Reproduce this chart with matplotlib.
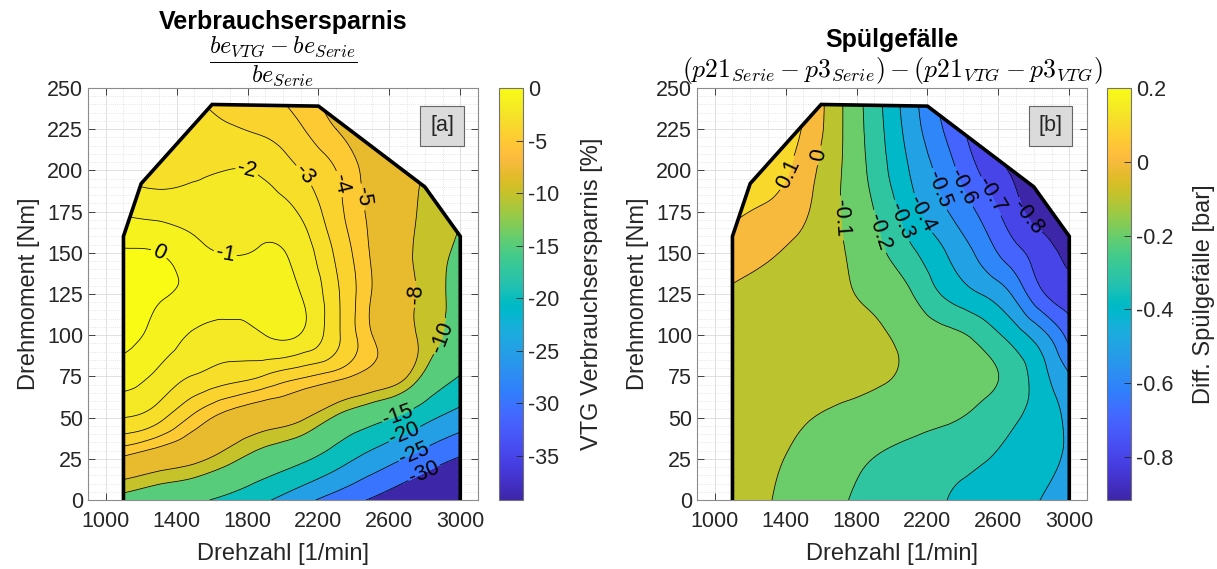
import numpy as np
import matplotlib
matplotlib.use("Agg")
import matplotlib.pyplot as plt
import matplotlib.tri as mtri
from matplotlib.colors import LinearSegmentedColormap, Normalize
from matplotlib.patches import Polygon
from matplotlib.cm import ScalarMappable
from matplotlib.ticker import MultipleLocator, FormatStrFormatter

plt.rcParams["font.family"] = ["Liberation Sans", "DejaVu Sans"]
plt.rcParams["mathtext.fontset"] = "cm"
plt.rcParams["axes.unicode_minus"] = False
plt.rcParams["contour.negative_linestyle"] = "solid"

# Kennfeld-Stuetzstellen
drehzahl = [1100, 1300, 1500, 1700, 1900, 2100, 2300, 2500, 2700, 2850, 3000]
drehmoment = [0, 25, 50, 75, 100, 125, 150, 175, 200, 225, 250]

# Verbrauchsersparnis [%], eine Zeile je Drehmoment
verbrauch = [
    [-11.1, -12.6, -14.1, -16.3, -19.4, -23.3, -27.1, -30.5, -34.0, -36.5, -39.2],
    [-5.3, -6.35, -7.4, -9.3, -11.7, -14.0, -17.7, -21.8, -25.4, -28.1, -30.5],
    [-2.0, -2.7, -4.25, -5.6, -6.6, -7.6, -10.4, -13.2, -16.4, -19.6, -22.1],
    [-0.55, -1.24, -2.06, -2.57, -3.1, -3.83, -4.55, -5.8, -7.97, -12.1, -15.2],
    [0.3, -0.37, -1.14, -1.43, -1.0, -1.05, -2.75, -4.96, -7.3, -9.3, -11.5],
    [0.4, 0.1, -0.17, -0.45, -0.72, -1.0, -2.8, -5.02, -7.55, -9.0, -11.5],
    [0.1, 0.0, -0.62, -1.05, -0.9, -1.4, -3.17, -5.15, -7.7, -9.0, -10.7],
    [-1.15, -1.35, -1.45, -1.5, -1.49, -2.13, -3.66, -5.35, -7.46, -8.8, -9.8],
    [-2.2, -2.3, -2.18, -1.98, -2.19, -3.0, -4.0, -5.6, -7.3, -8.5, -9.5],
    [-2.4, -2.5, -2.65, -2.9, -3.2, -3.9, -5.0, -6.0, -7.2, -8.2, -9.3],
    [-2.7, -2.8, -3.1, -3.35, -3.9, -4.6, -5.8, -7.0, -8.0, -8.8, -9.6],
]

# Differenz Spuelgefaelle [bar]
spuelgefaelle = [
    [-0.06, -0.095, -0.142, -0.189, -0.227, -0.263, -0.298, -0.336, -0.374, -0.403, -0.43],
    [-0.055, -0.085, -0.12, -0.16, -0.202, -0.232, -0.262, -0.291, -0.337, -0.376, -0.41],
    [-0.05, -0.07, -0.094, -0.113, -0.138, -0.163, -0.187, -0.225, -0.29, -0.353, -0.42],
    [-0.04, -0.055, -0.07, -0.081, -0.088, -0.116, -0.15, -0.175, -0.25, -0.369, -0.49],
    [-0.025, -0.04, -0.055, -0.069, -0.085, -0.125, -0.17, -0.233, -0.354, -0.471, -0.638],
    [-0.01, -0.03, -0.05, -0.082, -0.122, -0.19, -0.315, -0.4, -0.53, -0.69, -0.749],
    [0.047, 0.013, -0.033, -0.088, -0.166, -0.275, -0.397, -0.528, -0.67, -0.755, -0.84],
    [0.12, 0.081, 0.017, -0.095, -0.2, -0.355, -0.49, -0.62, -0.77, -0.85, -0.9],
    [0.18, 0.15, 0.053, -0.089, -0.234, -0.403, -0.55, -0.71, -0.82, -0.88, -0.917],
    [0.2, 0.17, 0.092, -0.08, -0.25, -0.44, -0.61, -0.77, -0.87, -0.9, -0.917],
    [0.2, 0.18, 0.1, -0.08, -0.26, -0.46, -0.63, -0.79, -0.88, -0.91, -0.917],
]

# Volllastlinie
vl_drehzahl = [1100, 1100, 1200, 1600, 2200, 2800, 3000, 3000]
vl_moment = [0, 160, 192, 240, 239, 190, 160, 0]

levels_a = [-30, -25, -20, -15, -10, -8, -5, -4, -3, -2, -1, 0]
levels_b = [-0.8, -0.7, -0.6, -0.5, -0.4, -0.3, -0.2, -0.1, 0, 0.1]

# Positionen der Hoehenlinien-Beschriftungen
labels_a = [(1302, 150), (1669, 146), (1791, 197), (2119, 197), (2326, 192),
            (2457, 184), (2730, 125), (2891, 99), (2647, 52), (2685, 40),
            (2741, 28), (2797, 16)]
labels_b = [(1417, 198), (1595, 209), (1708, 171), (1933, 163), (2046, 169),
            (2159, 173), (2253, 188), (2403, 190), (2553, 184), (2769, 172)]

parula_rgb = [
    (0.2422, 0.1504, 0.6603), (0.2504, 0.1650, 0.7076), (0.2578, 0.1818, 0.7511), (0.2647, 0.1978, 0.7952),
    (0.2706, 0.2147, 0.8364), (0.2751, 0.2342, 0.8710), (0.2783, 0.2559, 0.8991), (0.2803, 0.2782, 0.9221),
    (0.2813, 0.3006, 0.9414), (0.2810, 0.3228, 0.9579), (0.2795, 0.3447, 0.9717), (0.2760, 0.3667, 0.9829),
    (0.2699, 0.3892, 0.9906), (0.2602, 0.4123, 0.9952), (0.2440, 0.4358, 0.9988), (0.2206, 0.4603, 0.9973),
    (0.1963, 0.4847, 0.9892), (0.1834, 0.5074, 0.9798), (0.1786, 0.5289, 0.9682), (0.1764, 0.5499, 0.9520),
    (0.1687, 0.5703, 0.9359), (0.1540, 0.5902, 0.9218), (0.1460, 0.6091, 0.9079), (0.1380, 0.6276, 0.8973),
    (0.1248, 0.6459, 0.8883), (0.1113, 0.6635, 0.8763), (0.0952, 0.6798, 0.8598), (0.0689, 0.6948, 0.8394),
    (0.0297, 0.7082, 0.8163), (0.0036, 0.7203, 0.7917), (0.0067, 0.7312, 0.7660), (0.0433, 0.7411, 0.7394),
    (0.0964, 0.7500, 0.7120), (0.1408, 0.7584, 0.6842), (0.1717, 0.7670, 0.6554), (0.1938, 0.7758, 0.6251),
    (0.2161, 0.7843, 0.5923), (0.2470, 0.7918, 0.5567), (0.2906, 0.7973, 0.5188), (0.3406, 0.8008, 0.4789),
    (0.3909, 0.8029, 0.4354), (0.4456, 0.8024, 0.3909), (0.5044, 0.7993, 0.3480), (0.5616, 0.7942, 0.3045),
    (0.6174, 0.7876, 0.2612), (0.6720, 0.7793, 0.2227), (0.7242, 0.7698, 0.1910), (0.7738, 0.7598, 0.1646),
    (0.8203, 0.7498, 0.1535), (0.8634, 0.7406, 0.1596), (0.9035, 0.7330, 0.1774), (0.9393, 0.7288, 0.2100),
    (0.9728, 0.7298, 0.2394), (0.9956, 0.7434, 0.2371), (0.9970, 0.7659, 0.2199), (0.9952, 0.7893, 0.2028),
    (0.9892, 0.8136, 0.1885), (0.9786, 0.8386, 0.1766), (0.9676, 0.8639, 0.1643), (0.9610, 0.8890, 0.1537),
    (0.9597, 0.9135, 0.1423), (0.9628, 0.9373, 0.1265), (0.9691, 0.9606, 0.1064), (0.9769, 0.9839, 0.0805),
]
parula = LinearSegmentedColormap.from_list("parula", parula_rgb, N=256)

W, H = 1217, 569


def kennfeld(ax, cax, werte, levels, vmin, vmax, cticks, lab_pos, cb_label, cb_pad):
    n, m = np.meshgrid(drehzahl, drehmoment)
    z = np.asarray(werte, dtype=float).ravel()
    # glatte Darstellung ueber verfeinerte Dreiecksvernetzung
    tri = mtri.Triangulation(n.ravel() / 200.0, m.ravel() / 25.0)
    interp = mtri.CubicTriInterpolator(tri, z, kind="min_E")
    tri_f, z_f = mtri.UniformTriRefiner(tri).refine_field(z, triinterpolator=interp, subdiv=4)
    tri_p = mtri.Triangulation(tri_f.x * 200.0, tri_f.y * 25.0, tri_f.triangles)

    norm = Normalize(vmin, vmax)
    bounds = [-1e3] + list(levels) + [1e3]
    band_colors = [parula(norm(max(lo, vmin))) for lo in bounds[:-1]]

    vl = Polygon(np.column_stack([vl_drehzahl, vl_moment]), closed=True,
                 transform=ax.transData, fc="none", ec="none")
    cf = ax.tricontourf(tri_p, z_f, levels=bounds, colors=band_colors, zorder=1)
    cf.set_clip_path(vl)
    cl = ax.tricontour(tri_p, z_f, levels=levels, colors="k", linewidths=0.55,
                       linestyles="solid", zorder=2)
    cl.set_clip_path(vl)
    ax.clabel(cl, levels, manual=lab_pos, inline=True, fmt="%g", fontsize=15.5,
              inline_spacing=4)
    ax.plot(vl_drehzahl, vl_moment, color="k", lw=2.6, zorder=3, solid_joinstyle="miter")

    ax.set_xlim(900, 3100)
    ax.set_ylim(0, 250)
    ax.set_xticks(range(1000, 3001, 400))
    ax.set_yticks(range(0, 251, 25))
    ax.xaxis.set_minor_locator(MultipleLocator(100))
    ax.yaxis.set_minor_locator(MultipleLocator(5))
    ax.set_axisbelow(True)
    ax.grid(which="major", color="0.86", lw=0.6)
    ax.grid(which="minor", color="0.86", lw=0.6, ls=":")
    ax.tick_params(which="both", direction="in", top=True, right=True,
                   labelsize=15.5, colors="0.15", length=5, width=0.6)
    ax.tick_params(axis="x", pad=8)
    ax.tick_params(which="minor", length=0)
    for s in ax.spines.values():
        s.set_color("0.55")
        s.set_linewidth(0.8)
    ax.set_xlabel("Drehzahl [1/min]", fontsize=17, color="0.15", labelpad=8)
    ax.set_ylabel("Drehmoment [Nm]", fontsize=17, color="0.15", labelpad=5)

    cb = plt.colorbar(ScalarMappable(norm=norm, cmap=parula), cax=cax)
    cb.set_ticks(cticks)
    cb.ax.yaxis.set_major_formatter(FormatStrFormatter("%g"))
    cb.ax.tick_params(direction="in", labelsize=15.5, colors="0.15", length=5, width=0.6)
    cb.outline.set_edgecolor("0.45")
    cb.outline.set_linewidth(0.8)
    cb.set_label(cb_label, fontsize=17, color="0.15", labelpad=cb_pad)


fig = plt.figure(figsize=(W / 100, H / 100), dpi=100)
ax1 = fig.add_axes([88 / W, 69 / H, 390 / W, 412 / H])
cax1 = fig.add_axes([499 / W, 69 / H, 24 / W, 412 / H])
ax2 = fig.add_axes([697 / W, 69 / H, 390 / W, 412 / H])
cax2 = fig.add_axes([1107 / W, 69 / H, 24 / W, 412 / H])

kennfeld(ax1, cax1, verbrauch, levels_a, -39.2, 0, [0, -5, -10, -15, -20, -25, -30, -35],
         labels_a, "VTG Verbrauchsersparnis [%]", 16)
kennfeld(ax2, cax2, spuelgefaelle, levels_b, -0.917, 0.2, [0.2, 0, -0.2, -0.4, -0.6, -0.8],
         labels_b, "Diff. Spülgefälle [bar]", 14)

box = dict(boxstyle="square,pad=0.45", fc="0.86", ec="0.4", lw=0.8)
ax1.text(0.908, 0.908, "[a]", transform=ax1.transAxes, ha="center", va="center",
         fontsize=15.5, color="0.15", bbox=box, zorder=5)
ax2.text(0.906, 0.908, "[b]", transform=ax2.transAxes, ha="center", va="center",
         fontsize=15.5, color="0.15", bbox=box, zorder=5)

fig.text(283 / W, 1 - 22 / H, "Verbrauchsersparnis", ha="center", va="center",
         fontsize=18, fontweight="bold")
fig.text(283 / W, 1 - 61 / H, r"$\dfrac{be_{VTG}-be_{Serie}}{be_{Serie}}$",
         ha="center", va="center", fontsize=17.5)
fig.text(892 / W, 1 - 40 / H, "Spülgefälle", ha="center", va="center",
         fontsize=18, fontweight="bold")
fig.text(892 / W, 1 - 71 / H, r"$(p21_{Serie}-p3_{Serie})-(p21_{VTG}-p3_{VTG})$",
         ha="center", va="center", fontsize=18.5)

fig.savefig("out.png", dpi=100)
